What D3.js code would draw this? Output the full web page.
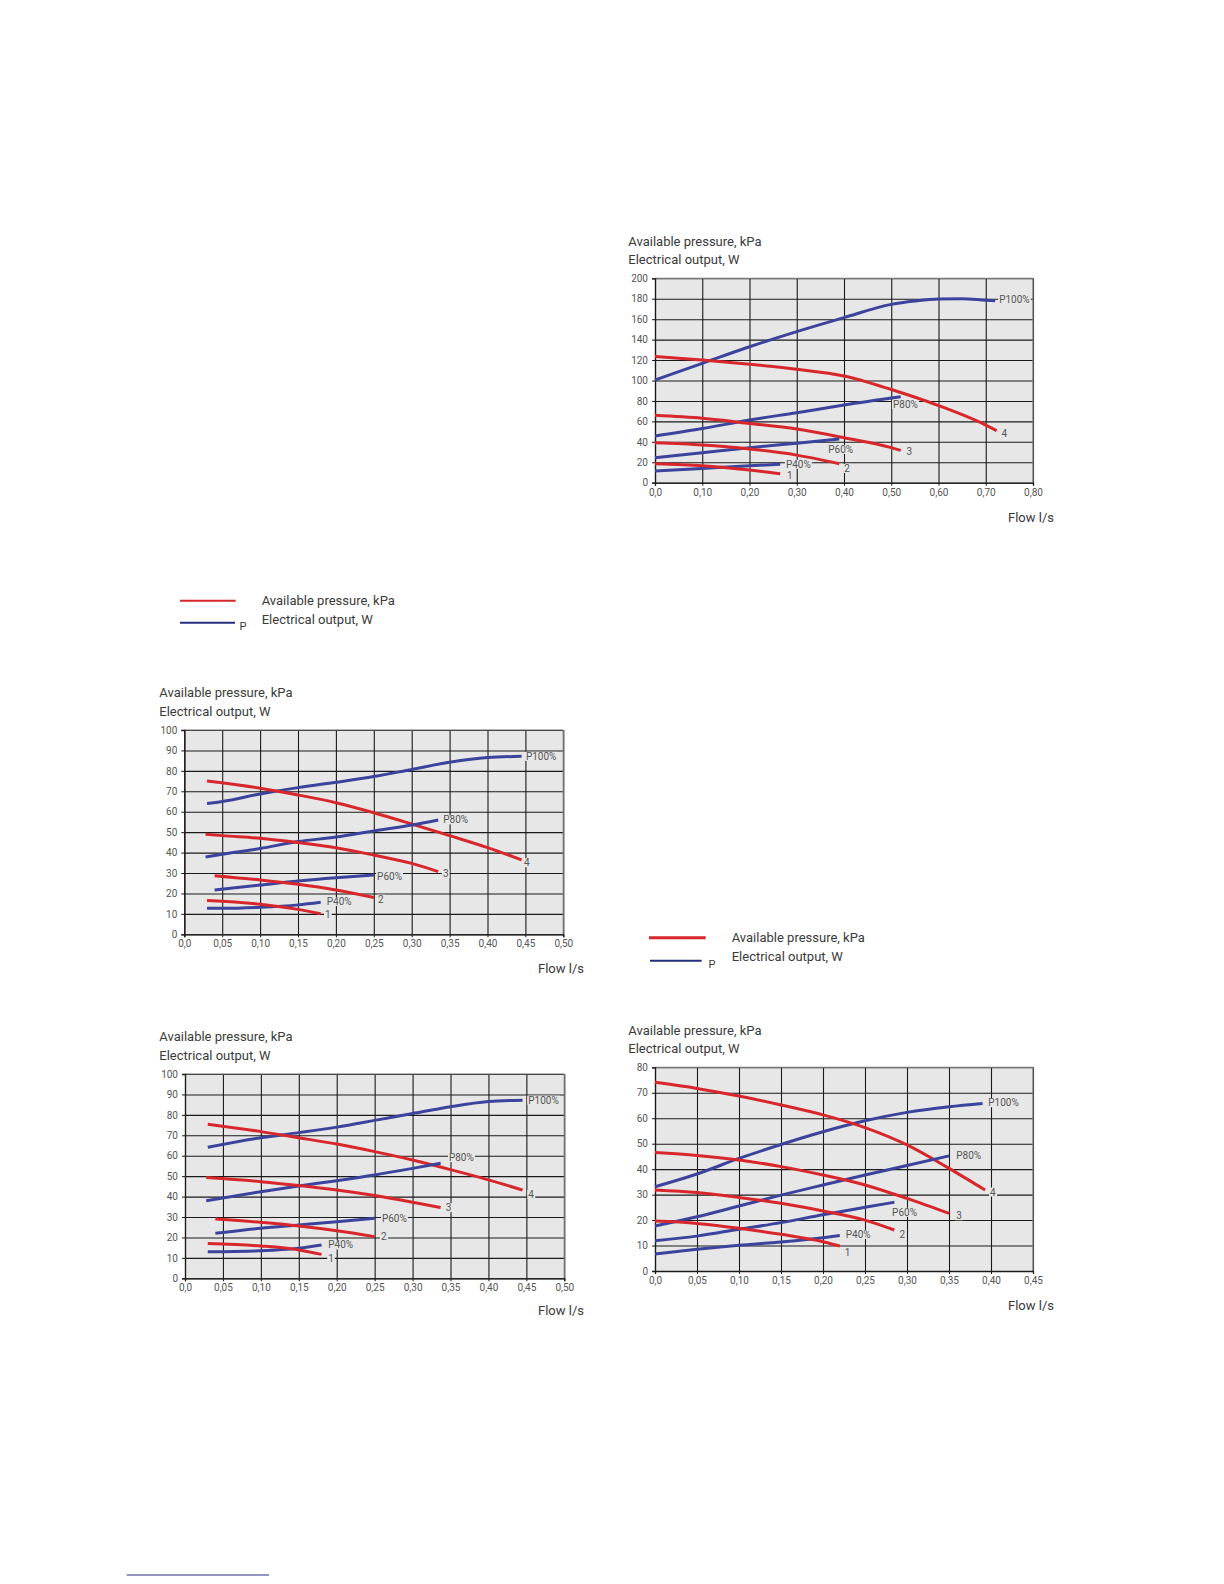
<!DOCTYPE html>
<html><head><meta charset="utf-8">
<script src="https://cdn.jsdelivr.net/npm/d3@7"></script>
<style>
html,body{margin:0;padding:0;background:#fff;}
svg{display:block;font-family:Roboto,"Open Sans",sans-serif;}
</style></head>
<body>
<svg id="page" width="1224" height="1584"></svg>
<script>
// ---------------- DATA ----------------
const titleLines = ["Available pressure, kPa", "Electrical output, W"];
const xAxisTitle = "Flow l/s";
const legendLabels = ["Available pressure, kPa", "Electrical output, W"];
const legendMarker = "P";
const seriesNames = ["P100%", "4", "P80%", "3", "P60%", "2", "P40%", "1"];
const seriesKinds = ["power", "pressure", "power", "pressure", "power", "pressure", "power", "pressure"];

// Chart A (top right)
const aXTicks = [0, 0.1, 0.2, 0.3, 0.4, 0.5, 0.6, 0.7, 0.8];
const aXLabels = ["0,0", "0,10", "0,20", "0,30", "0,40", "0,50", "0,60", "0,70", "0,80"];
const aYTicks = [0, 20, 40, 60, 80, 100, 120, 140, 160, 180, 200];
const aP100 = [[0,100.5],[0.1,116.8],[0.2,133],[0.3,147.8],[0.4,161.5],[0.5,174.5],[0.55,177.8],[0.6,179.8],[0.65,180],[0.7,178.5],[0.72,178]];
const aL4   = [[0,123.5],[0.1,120],[0.2,115.8],[0.3,111],[0.4,104.4],[0.5,91.2],[0.6,75.5],[0.7,56.4],[0.723,50.9]];
const aP80  = [[0,45.7],[0.1,53],[0.2,61.3],[0.3,68.5],[0.4,76],[0.52,84]];
const aL3   = [[0,65.9],[0.1,63],[0.2,58],[0.3,52.5],[0.4,44],[0.5,34.3],[0.52,31.6]];
const aP60  = [[0,24.5],[0.1,29.4],[0.2,34.3],[0.3,38.5],[0.39,42.7]];
const aL2   = [[0,39],[0.1,36.9],[0.2,33],[0.3,27],[0.39,18.6]];
const aP40  = [[0,11.4],[0.1,14],[0.2,16.6],[0.265,18]];
const aL1   = [[0,18.6],[0.1,16.6],[0.2,12.4],[0.265,8.8]];

// Chart B (middle left)
const bXTicks = [0, 0.05, 0.1, 0.15, 0.2, 0.25, 0.3, 0.35, 0.4, 0.45, 0.5];
const bXLabels = ["0,0", "0,05", "0,10", "0,15", "0,20", "0,25", "0,30", "0,35", "0,40", "0,45", "0,50"];
const bYTicks = [0, 10, 20, 30, 40, 50, 60, 70, 80, 90, 100];
const bP100 = [[0.03,64],[0.05,65],[0.1,68.7],[0.15,71.8],[0.2,74.4],[0.25,77.2],[0.3,80.7],[0.35,84.2],[0.4,86.5],[0.445,87.1]];
const bL4   = [[0.03,75],[0.1,71.5],[0.15,68.2],[0.2,64.4],[0.25,59.5],[0.3,54],[0.35,48.3],[0.4,42.4],[0.445,36.4]];
const bP80  = [[0.028,37.8],[0.05,39.2],[0.1,42],[0.15,45.4],[0.2,47.6],[0.25,50.6],[0.3,53.5],[0.335,56]];
const bL3   = [[0.028,49],[0.05,48.3],[0.1,47],[0.15,44.9],[0.2,42.4],[0.25,38.8],[0.3,34.7],[0.335,30.7]];
const bP60  = [[0.04,21.7],[0.1,24.1],[0.15,26.1],[0.2,27.7],[0.25,29]];
const bL2   = [[0.04,28.7],[0.1,26.6],[0.15,24.5],[0.2,21.7],[0.25,18]];
const bP40  = [[0.03,12.7],[0.05,12.7],[0.1,13.2],[0.15,14.4],[0.18,15.7]];
const bL1   = [[0.03,16.5],[0.1,14.7],[0.15,12.2],[0.18,10.1]];

// Chart C (bottom left)
const cXTicks = bXTicks;
const cXLabels = bXLabels;
const cYTicks = bYTicks;
const cP100 = [[0.03,64.1],[0.1,68.8],[0.15,71.3],[0.2,74],[0.25,77.3],[0.3,80.7],[0.35,84],[0.4,86.5],[0.445,87.2]];
const cL4   = [[0.03,75.4],[0.1,71.8],[0.15,68.8],[0.2,65.7],[0.25,62],[0.3,57.9],[0.35,53.2],[0.4,48.2],[0.445,43.2]];
const cP80  = [[0.028,38],[0.1,42.4],[0.15,45.2],[0.2,47.8],[0.25,50.6],[0.3,53.8],[0.337,56.3]];
const cL3   = [[0.028,49.3],[0.1,47.3],[0.15,45.4],[0.2,43.2],[0.25,40.5],[0.3,37.2],[0.337,34.6]];
const cP60  = [[0.04,22],[0.1,24.5],[0.15,26.1],[0.2,27.7],[0.25,29.4]];
const cL2   = [[0.04,29],[0.1,27.4],[0.15,25.6],[0.2,23.3],[0.25,20.4]];
const cP40  = [[0.03,13],[0.1,13.5],[0.15,14.7],[0.18,16.3]];
const cL1   = [[0.03,17],[0.1,15.8],[0.15,13.9],[0.18,11.7]];

// Chart D (bottom right)
const dXTicks = [0, 0.05, 0.1, 0.15, 0.2, 0.25, 0.3, 0.35, 0.4, 0.45];
const dXLabels = ["0,0", "0,05", "0,10", "0,15", "0,20", "0,25", "0,30", "0,35", "0,40", "0,45"];
const dYTicks = [0, 10, 20, 30, 40, 50, 60, 70, 80];
const dP100 = [[0,33.1],[0.05,38.1],[0.1,44.2],[0.15,49.7],[0.2,54.7],[0.25,59],[0.3,62.3],[0.35,64.5],[0.39,65.8]];
const dL4   = [[0,74.1],[0.05,71.7],[0.1,68.7],[0.15,65.2],[0.2,61.3],[0.25,56.3],[0.3,49.5],[0.35,40.3],[0.393,31.8]];
const dP80  = [[0,17.7],[0.05,21.3],[0.1,25.5],[0.15,29.8],[0.2,33.8],[0.25,37.7],[0.3,41.4],[0.35,45.2]];
const dL3   = [[0,46.5],[0.05,45.4],[0.1,43.6],[0.15,41],[0.2,37.7],[0.25,33.8],[0.3,28.5],[0.35,22.6]];
const dP60  = [[0,11.9],[0.05,13.7],[0.1,16.4],[0.15,19],[0.2,22.1],[0.25,25],[0.285,27]];
const dL2   = [[0,31.8],[0.05,30.8],[0.1,28.9],[0.15,26.6],[0.2,23.6],[0.25,20],[0.285,16.1]];
const dP40  = [[0,6.7],[0.05,8.5],[0.1,10.1],[0.15,11.4],[0.2,13.1],[0.22,13.9]];
const dL1   = [[0,19.6],[0.05,18.7],[0.1,16.8],[0.15,14.4],[0.2,11.5],[0.22,9.8]];

// ---------------- LAYOUT / STYLE ----------------
const RED = "#d8272c", BLUE = "#3b439d", NAVY = "#242e7e";
const PLOT_BG = "#e7e7e7";
const TEXT = "#3a3a3a", TICKTEXT = "#555";

const svg = d3.select("#page");

function drawChart(cfg) {
  const {left, right, top, bottom} = cfg.box;
  const x = d3.scaleLinear().domain([cfg.xTicks[0], cfg.xTicks[cfg.xTicks.length-1]]).range([left, right]);
  const y = d3.scaleLinear().domain([cfg.yTicks[0], cfg.yTicks[cfg.yTicks.length-1]]).range([bottom, top]);
  const g = svg.append("g");

  titleLines.forEach((t, i) => {
    g.append("text").attr("x", cfg.titleX).attr("y", cfg.titleY[i]).attr("dy", "0.35em")
      .attr("fill", TEXT).attr("font-size", 13).text(t);
  });

  g.append("rect").attr("x", left).attr("y", top).attr("width", right-left).attr("height", bottom-top)
    .attr("fill", PLOT_BG);

  const gx = g.append("g").attr("transform", `translate(0,${bottom})`)
    .call(d3.axisBottom(x).tickValues(cfg.xTicks).tickSize(-(bottom-top)).tickFormat(""));
  gx.select(".domain").remove();
  gx.selectAll("line").attr("stroke", "#1a1a1a").attr("stroke-width", 1.1);
  const gy = g.append("g").attr("transform", `translate(${left},0)`)
    .call(d3.axisLeft(y).tickValues(cfg.yTicks).tickSize(-(right-left)).tickFormat(""));
  gy.select(".domain").remove();
  gy.selectAll("line").attr("stroke", "#1a1a1a").attr("stroke-width", 1.1);
  g.append("line").attr("x1", left).attr("x2", right).attr("y1", top).attr("y2", top).attr("stroke", "#777").attr("stroke-width", 1.2);
  g.append("line").attr("x1", right).attr("x2", right).attr("y1", top).attr("y2", bottom).attr("stroke", "#777").attr("stroke-width", 1.2);

  const ax = g.append("g").attr("transform", `translate(0,${bottom})`)
    .call(d3.axisBottom(x).tickValues(cfg.xTicks).tickSize(3).tickPadding(3).tickFormat((d, i) => cfg.xLabels[i]));
  ax.select(".domain").attr("stroke", "#1a1a1a").attr("stroke-width", 1.3);
  ax.selectAll("line").attr("stroke", "#1a1a1a");
  ax.selectAll("text").attr("fill", TICKTEXT).attr("font-size", 10).attr("font-family", "Roboto");
  const ay = g.append("g").attr("transform", `translate(${left},0)`)
    .call(d3.axisLeft(y).tickValues(cfg.yTicks).tickSize(3).tickPadding(4));
  ay.select(".domain").attr("stroke", "#1a1a1a").attr("stroke-width", 1.3);
  ay.selectAll("line").attr("stroke", "#1a1a1a");
  ay.selectAll("text").attr("fill", TICKTEXT).attr("font-size", 10).attr("font-family", "Roboto");

  const line = d3.line().x(d => x(d[0])).y(d => y(d[1])).curve(d3.curveMonotoneX);
  cfg.series.forEach((s, i) => {
    g.append("path").attr("d", line(s)).attr("fill", "none")
      .attr("stroke", seriesKinds[i] === "power" ? BLUE : RED)
      .attr("stroke-width", 3).attr("stroke-linecap", "butt");
  });
  cfg.series.forEach((s, i) => {
    const last = s[s.length-1];
    const off = cfg.labelOffsets[i];
    const lx = x(last[0]) + off[0], ly = y(last[1]) + off[1];
    const t = g.append("text").attr("x", lx).attr("y", ly).attr("dy", "0.35em")
      .attr("fill", TICKTEXT).attr("font-size", 10).text(seriesNames[i]);
    const bb = t.node().getBBox();
    g.insert("rect", () => t.node()).attr("x", bb.x - 1).attr("y", bb.y + 1).attr("width", bb.width + 2).attr("height", bb.height - 2)
      .attr("fill", PLOT_BG);
  });

  g.append("text").attr("x", cfg.flowX).attr("y", cfg.flowY).attr("dy", "0.35em")
    .attr("fill", TEXT).attr("font-size", 13).text(xAxisTitle);
}

drawChart({
  box: {left: 655, right: 1033, top: 278.3, bottom: 482.7},
  xTicks: aXTicks, xLabels: aXLabels, yTicks: aYTicks,
  series: [aP100, aL4, aP80, aL3, aP60, aL2, aP40, aL1],
  labelOffsets: [[4,-1.7],[5,2.7],[-7.7,7.7],[5.7,1.3],[-11,10.3],[5,4.7],[5.7,0],[6.7,2]],
  titleX: 628.3, titleY: [241, 259.3], flowX: 1008, flowY: 517.5
});
drawChart({
  box: {left: 184.3, right: 563.3, top: 730, bottom: 934.3},
  xTicks: bXTicks, xLabels: bXLabels, yTicks: bYTicks,
  series: [bP100, bL4, bP80, bL3, bP60, bL2, bP40, bL1],
  labelOffsets: [[4.3,0],[2.3,2.7],[5,0],[4.7,2.3],[3.3,1.7],[4.3,1.7],[6,-0.7],[4.3,1.3]],
  titleX: 159.3, titleY: [692, 711], flowX: 538, flowY: 968
});
drawChart({
  box: {left: 185, right: 564.3, top: 1074, bottom: 1278.3},
  xTicks: cXTicks, xLabels: cXLabels, yTicks: cYTicks,
  series: [cP100, cL4, cP80, cL3, cP60, cL2, cP40, cL1],
  labelOffsets: [[5.7,0],[5.7,4.3],[8.3,-5.7],[5,0],[7.3,0.7],[6.3,0],[6.7,0],[6.7,4]],
  titleX: 159.3, titleY: [1036, 1055], flowX: 538, flowY: 1310
});
drawChart({
  box: {left: 655, right: 1033, top: 1067.3, bottom: 1271},
  xTicks: dXTicks, xLabels: dXLabels, yTicks: dYTicks,
  series: [dP100, dL4, dP80, dL3, dP60, dL2, dP40, dL1],
  labelOffsets: [[5.7,-0.7],[5,2],[7.3,-0.3],[7.3,2.3],[-2.3,10],[5,4.3],[6,-1.3],[5,6.7]],
  titleX: 628.3, titleY: [1030.7, 1048.3], flowX: 1008, flowY: 1305
});

function drawLegend(cfg) {
  const g = svg.append("g");
  g.append("line").attr("x1", cfg.xr1).attr("x2", cfg.xr2).attr("y1", cfg.yRed).attr("y2", cfg.yRed)
    .attr("stroke", RED).attr("stroke-width", cfg.redW);
  g.append("line").attr("x1", cfg.xb1).attr("x2", cfg.xb2).attr("y1", cfg.yBlue).attr("y2", cfg.yBlue)
    .attr("stroke", NAVY).attr("stroke-width", cfg.blueW);
  g.append("text").attr("x", cfg.pX).attr("y", cfg.yBlue + 3).attr("dy", "0.35em").attr("fill", TEXT)
    .attr("font-size", 11).text(legendMarker);
  legendLabels.forEach((t, i) => {
    g.append("text").attr("x", cfg.textX).attr("y", cfg.textY[i]).attr("dy", "0.35em")
      .attr("fill", TEXT).attr("font-size", 13).text(t);
  });
}
drawLegend({xr1: 180, xr2: 235.7, xb1: 180, xb2: 235, yRed: 600.7, yBlue: 622.7, redW: 2, blueW: 2, pX: 239.5, textX: 261.7, textY: [600, 619.3]});
drawLegend({xr1: 649, xr2: 705.7, xb1: 650, xb2: 701.7, yRed: 937.7, yBlue: 960.7, redW: 3, blueW: 2, pX: 708.5, textX: 731.7, textY: [937.3, 956.7]});

svg.append("line").attr("x1", 126.7).attr("x2", 269).attr("y1", 1575).attr("y2", 1575)
  .attr("stroke", NAVY).attr("stroke-width", 1.2);
</script>
</body></html>
